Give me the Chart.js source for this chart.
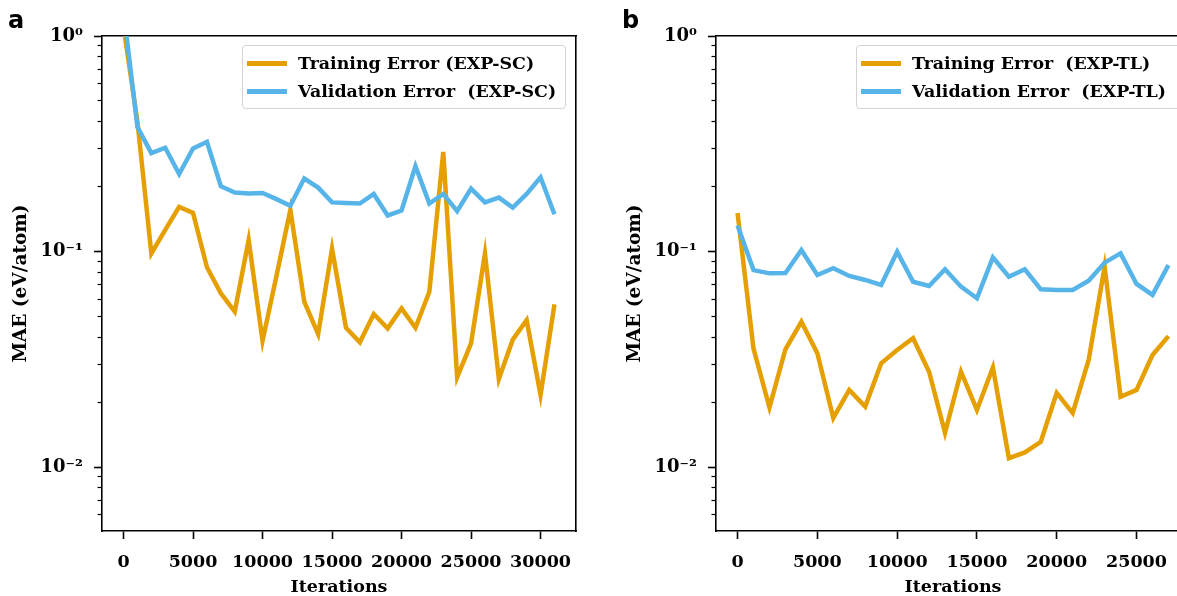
<!DOCTYPE html>
<html>
<head>
<meta charset="utf-8">
<script src="https://cdn.jsdelivr.net/npm/chart.js@4.4.1/dist/chart.umd.min.js"></script>
<style>
  html, body { margin: 0; padding: 0; background: #fff; overflow: hidden; }
  body { width: 1177px; height: 596px; position: relative; }
  canvas { position: absolute; top: 0; }
  .panel { position: absolute; top: 6px; font: bold 24px "DejaVu Sans", sans-serif; color: #000; }
  .legend {
    position: absolute; top: 45px; height: 62px;
    border: 1px solid #d4d4d4; border-radius: 4px;
    background: rgba(255, 255, 255, 0.8);
    font: bold 17.4px "DejaVu Serif", serif; color: #000;
  }
  .row { position: absolute; left: 0; height: 20px; white-space: pre; }
  .row span.sw { position: absolute; left: 4px; top: 8px; width: 40px; height: 4.5px; }
  .row span.tx { position: absolute; left: 55px; top: 0; line-height: 20px; }
</style>
</head>
<body>
<canvas id="chart-a" width="600" height="596" style="left:0"></canvas>
<canvas id="chart-b" width="600" height="596" style="left:614px"></canvas>

<div class="panel" style="left:8px">a</div>
<div class="panel" style="left:622px">b</div>

<div class="legend" style="left:242px; width:322px">
  <div class="row" style="top:7px"><span class="sw" style="background:#E69F00"></span><span class="tx">Training Error (EXP-SC)</span></div>
  <div class="row" style="top:35px"><span class="sw" style="background:#56B4E9"></span><span class="tx">Validation Error  (EXP-SC)</span></div>
</div>
<div class="legend" style="left:856px; width:340px">
  <div class="row" style="top:7px"><span class="sw" style="background:#E69F00"></span><span class="tx">Training Error  (EXP-TL)</span></div>
  <div class="row" style="top:35px"><span class="sw" style="background:#56B4E9"></span><span class="tx">Validation Error  (EXP-TL)</span></div>
</div>

<script>
// iterations (every 1000)
const itersSC = [0, 1000, 2000, 3000, 4000, 5000, 6000, 7000, 8000, 9000, 10000,
  11000, 12000, 13000, 14000, 15000, 16000, 17000, 18000, 19000, 20000,
  21000, 22000, 23000, 24000, 25000, 26000, 27000, 28000, 29000, 30000, 31000];
const trainSC = [1.1, 0.40, 0.098, 0.126, 0.161, 0.151, 0.0845, 0.064, 0.0526, 0.113, 0.0385,
  0.077, 0.156, 0.0585, 0.0414, 0.103, 0.0443, 0.0379, 0.0513, 0.0440, 0.0545,
  0.0443, 0.0651, 0.290, 0.0261, 0.0375, 0.098, 0.0256, 0.039, 0.048, 0.0216, 0.0569];
const validSC = [1.31, 0.378, 0.286, 0.303, 0.229, 0.301, 0.323, 0.201, 0.188, 0.186, 0.187,
  0.175, 0.163, 0.218, 0.198, 0.169, 0.168, 0.167, 0.185, 0.147, 0.155,
  0.249, 0.167, 0.185, 0.154, 0.196, 0.169, 0.178, 0.160, 0.185, 0.221, 0.149];

const itersTL = [0, 1000, 2000, 3000, 4000, 5000, 6000, 7000, 8000, 9000, 10000,
  11000, 12000, 13000, 14000, 15000, 16000, 17000, 18000, 19000, 20000,
  21000, 22000, 23000, 24000, 25000, 26000, 27000];
const trainTL = [0.151, 0.0355, 0.0189, 0.0352, 0.0472, 0.0337, 0.0169, 0.0228, 0.0191, 0.0303, 0.0349,
  0.0396, 0.0277, 0.0144, 0.0277, 0.0184, 0.029, 0.011, 0.0117, 0.0131, 0.0221,
  0.0178, 0.0314, 0.085, 0.0212, 0.0228, 0.0331, 0.0405];
const validTL = [0.132, 0.082, 0.0792, 0.0795, 0.1016, 0.0778, 0.0836, 0.0770, 0.0738, 0.070, 0.0998,
  0.0724, 0.0692, 0.0827, 0.0687, 0.0607, 0.094, 0.0764, 0.0827, 0.0668, 0.0663,
  0.0663, 0.0732, 0.0888, 0.098, 0.0707, 0.0629, 0.0865];

const xTicksSC = [0, 5000, 10000, 15000, 20000, 25000, 30000];
const xTicksTL = [0, 5000, 10000, 15000, 20000, 25000];
const yMajorTicks = [0.01, 0.1, 1];
const yTickLabels = ['10\u207B\u00B2', '10\u207B\u00B9', '10\u2070'];

const ORANGE = '#E69F00';
const BLUE = '#56B4E9';
const serif = '"DejaVu Serif", serif';

// minor log ticks 2..9 x each decade
const yMinorTicks = [];
[0.001, 0.01, 0.1].forEach(d => {
    for (let m = 2; m <= 9; m++) yMinorTicks.push(+(m * d).toPrecision(3));
});

function toPoints(xs, ys) {
    return xs.map((x, i) => ({ x: x, y: ys[i] }));
}

function makeChart(id, iters, train, valid, xTicks) {
    const last = iters[iters.length - 1];
    const pad = last * 0.05;
    const xMin = -pad, xMax = last + pad;
    const yMin = 0.00505, yMax = 1;

    new Chart(document.getElementById(id), {
        type: 'line',
        data: {
            datasets: [
                { label: 'Validation', data: toPoints(iters, valid), borderColor: BLUE,
                  borderWidth: 4.5, pointRadius: 0, tension: 0, clip: 0, order: 0 },
                { label: 'Training', data: toPoints(iters, train), borderColor: ORANGE,
                  borderWidth: 4.5, pointRadius: 0, tension: 0, clip: 0, order: 1 }
            ]
        },
        options: {
            responsive: false,
            animation: false,
            devicePixelRatio: 1,
            layout: { padding: { left: 0, top: 36, right: 24, bottom: 0 } },
            plugins: { legend: { display: false }, tooltip: { enabled: false } },
            scales: {
                x: {
                    type: 'linear', position: 'bottom', min: xMin, max: xMax,
                    afterBuildTicks: s => { s.ticks = xTicks.map(v => ({ value: v })); },
                    afterFit: s => { s.height = 65; },
                    grid: { drawOnChartArea: false, tickLength: 8, tickWidth: 1.6, tickColor: '#000' },
                    border: { display: true, color: '#000', width: 1.6 },
                    ticks: { color: '#000', padding: 13, maxRotation: 0, autoSkip: false,
                             font: { family: serif, size: 17.5, weight: 'bold' },
                             callback: v => String(v) },
                    title: { display: true, text: 'Iterations', color: '#000',
                             padding: { top: 0, bottom: 0 },
                             font: { family: serif, size: 17.5, weight: 'bold', lineHeight: 1 } }
                },
                xTop: {
                    type: 'linear', position: 'top', min: xMin, max: xMax,
                    afterFit: s => { s.height = 0; },
                    grid: { drawOnChartArea: false, drawTicks: false },
                    border: { display: true, color: '#000', width: 1.6 },
                    ticks: { display: false }
                },
                y: {
                    type: 'logarithmic', position: 'left', min: yMin, max: yMax, weight: 1,
                    afterBuildTicks: s => { s.ticks = yMajorTicks.map(v => ({ value: v, major: true })); },
                    afterFit: s => { s.width = 102; },
                    grid: { drawOnChartArea: false, tickLength: 8, tickWidth: 1.6, tickColor: '#000' },
                    border: { display: true, color: '#000', width: 1.6 },
                    ticks: { color: '#000', padding: 11, autoSkip: false,
                             font: { family: serif, size: 18, weight: 'bold' },
                             callback: v => yTickLabels[yMajorTicks.indexOf(v)] ?? '' },
                    title: { display: true, text: 'MAE (eV/atom)', color: '#000',
                             padding: { top: 10, bottom: 0 },
                             font: { family: serif, size: 18.5, weight: 'bold' } }
                },
                yMinor: {
                    type: 'logarithmic', position: 'left', min: yMin, max: yMax, weight: 0,
                    afterBuildTicks: s => { s.ticks = yMinorTicks.filter(v => v >= yMin).map(v => ({ value: v })); },
                    afterFit: s => { s.width = 0; },
                    grid: { drawOnChartArea: false, tickLength: 4.5, tickWidth: 1.2, tickColor: '#000' },
                    border: { display: false },
                    ticks: { display: false }
                },
                yRight: {
                    type: 'logarithmic', position: 'right', min: yMin, max: yMax,
                    afterFit: s => { s.width = 0; },
                    grid: { drawOnChartArea: false, drawTicks: false },
                    border: { display: true, color: '#000', width: 1.6 },
                    ticks: { display: false }
                }
            }
        }
    });
}

makeChart('chart-a', itersSC, trainSC, validSC, xTicksSC);
makeChart('chart-b', itersTL, trainTL, validTL, xTicksTL);
</script>
</body>
</html>
